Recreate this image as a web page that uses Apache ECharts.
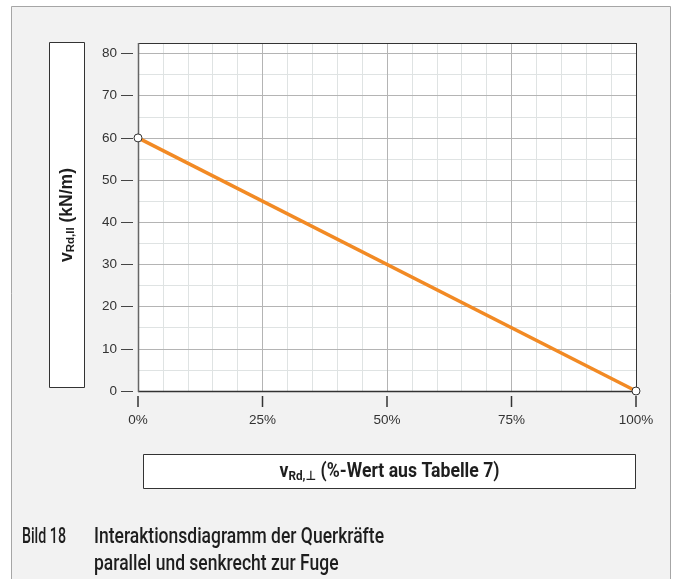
<!DOCTYPE html>
<html><head><meta charset="utf-8">
<script src="https://cdn.jsdelivr.net/npm/echarts@6/dist/echarts.min.js"></script>
<style>html,body{margin:0;padding:0;background:#fff}#c{width:676px;height:579px}</style>
</head><body><div id="c"></div>
<script>
// ---- data ----
const xTicks = [0, 25, 50, 75, 100];
const xTickLabels = ['0%', '25%', '50%', '75%', '100%'];
const yTicks = [0, 10, 20, 30, 40, 50, 60, 70, 80];
const yMax = 82.5;
const lineX = [0, 100];
const lineY = [60, 0];
const xTitleParts = ['v', 'Rd,\u22A5', ' (%-Wert aus Tabelle 7)'];
const yTitleParts = ['v', 'Rd,II', ' (kN/m)'];
const captionNo = 'Bild 18';
const captionLines = ['Interaktionsdiagramm der Querkr\u00e4fte', 'parallel und senkrecht zur Fuge'];

// ---- layout ----
const G = { left: 138, top: 43, width: 498, height: 348 };
const mctx = document.createElement('canvas').getContext('2d');
function tw(t, font) { mctx.font = font; return mctx.measureText(t).width; }
const CAP_FONT = '500 22px Roboto';
const capScale = 290 / tw(captionLines[0], CAP_FONT);
const noScale = 44 / tw(captionNo, CAP_FONT);
const XT_FAM = 'Roboto, "DejaVu Sans", sans-serif';
const xtW = tw(xTitleParts[0], 'bold 19.5px ' + XT_FAM) + tw(xTitleParts[1], 'bold 13px ' + XT_FAM) + tw(xTitleParts[2], 'bold 19.5px ' + XT_FAM);
const xtScale = 220 / xtW;

const chart = echarts.init(document.getElementById('c'), null, { renderer: 'canvas' });
const hidden = { axisLine: { show: false }, axisTick: { show: false }, axisLabel: { show: false } };
const minorC = '#dfe3e3', majorC = '#b4b4b4';
const LBL_FAM = '"Liberation Sans", Arial, sans-serif';
const labelFont = { color: '#333', fontSize: 13.5, fontFamily: LBL_FAM };

function T(x, y, style, extra) {
  return Object.assign({ type: 'text', x: x, y: y, z: 5, style: style }, extra || {});
}

chart.setOption({
  animation: false,
  backgroundColor: '#fff',
  grid: Object.assign({ show: true, backgroundColor: '#fff', borderWidth: 0, outerBoundsMode: 'none', containLabel: false }, G),
  xAxis: [
    Object.assign({ type: 'value', min: 0, max: 100, interval: 5, position: 'bottom', z: 0,
      splitLine: { show: true, lineStyle: { color: minorC, width: 1 } } }, hidden),
    Object.assign({ type: 'value', min: 0, max: 100, interval: 25, position: 'bottom', z: 1,
      splitLine: { show: true, lineStyle: { color: majorC, width: 1 } } }, hidden),
    { type: 'value', min: 0, max: 100, interval: 25, position: 'bottom', offset: 5, z: 6,
      axisLine: { show: false },
      axisTick: { show: false },
      axisLabel: { show: true, margin: 0, verticalAlign: 'top', customValues: xTicks,
        formatter: v => '{t|}\n{l|' + (xTickLabels[xTicks.indexOf(v)] || '') + '}',
        rich: {
          t: { width: 1.5, height: 11, lineHeight: 11, backgroundColor: '#333' },
          l: { color: '#333', fontSize: 13.5, fontFamily: LBL_FAM, lineHeight: 26 }
        } },
      splitLine: { show: false } }
  ],
  yAxis: [
    Object.assign({ type: 'value', min: 0, max: yMax, interval: 5, position: 'left', z: 0,
      splitLine: { show: true, lineStyle: { color: minorC, width: 1 } } }, hidden),
    Object.assign({ type: 'value', min: 0, max: yMax, interval: 10, position: 'left', z: 1,
      splitLine: { show: true, lineStyle: { color: majorC, width: 1 } } }, hidden),
    { type: 'value', min: 0, max: yMax, interval: 10, position: 'left', offset: 5,
      axisLine: { show: true, onZero: false, lineStyle: { color: '#444', opacity: 0 } },
      axisTick: { show: true, inside: false, length: 12, customValues: yTicks, lineStyle: { color: '#444', width: 1, opacity: 1 } },
      axisLabel: Object.assign({ show: true, margin: 16, customValues: yTicks,
        formatter: v => (yTicks.indexOf(v) >= 0 ? String(v) : '') }, labelFont),
      splitLine: { show: false } }
  ],
  series: [{
    type: 'line', xAxisIndex: 0, yAxisIndex: 0, z: 3, clip: false,
    data: lineX.map((x, i) => [x, lineY[i]]),
    lineStyle: { color: '#f28a24', width: 3.5 },
    symbol: 'circle', symbolSize: 8, showAllSymbol: true,
    itemStyle: { color: '#fff', borderColor: '#333', borderWidth: 1 }
  }],
  graphic: { elements: [
    { type: 'rect', z: -5, shape: { x: 11.5, y: 6.5, width: 659, height: 620 },
      style: { fill: '#f2f2f2', stroke: '#a6a6a6', lineWidth: 1 } },
    // plot frame
    { type: 'line', z: 1.5, shape: { x1: G.left, y1: G.top + 0.5, x2: G.left + G.width + 0.5, y2: G.top + 0.5 }, style: { stroke: '#333', lineWidth: 1 } },
    { type: 'line', z: 1.5, shape: { x1: G.left + G.width + 0.5, y1: G.top, x2: G.left + G.width + 0.5, y2: G.top + G.height + 1 }, style: { stroke: '#333', lineWidth: 1 } },
    { type: 'line', z: 1.5, shape: { x1: G.left, y1: G.top + G.height + 0.5, x2: G.left + G.width + 1, y2: G.top + G.height + 0.5 }, style: { stroke: '#333', lineWidth: 1.5 } },
    { type: 'line', z: 1.5, shape: { x1: G.left + 0.5, y1: G.top, x2: G.left + 0.5, y2: G.top + G.height + 1 }, style: { stroke: '#666', lineWidth: 1.5 } },
    // title boxes
    { type: 'rect', z: 1, shape: { x: 49.5, y: 42.5, width: 35, height: 345 }, style: { fill: '#fff', stroke: '#333', lineWidth: 1 } },
    { type: 'rect', z: 1, shape: { x: 143.5, y: 454.5, width: 492, height: 34 }, style: { fill: '#fff', stroke: '#333', lineWidth: 1 } },
    // y title (rotated)
    T(67, 215, {
      text: '{v|' + yTitleParts[0] + '}{s|' + yTitleParts[1] + '}{v|' + yTitleParts[2] + '}',
      align: 'center', verticalAlign: 'middle', textAlign: 'center', textVerticalAlign: 'middle',
      rich: {
        v: { fontSize: 17.5, fontWeight: 'bold', fontFamily: LBL_FAM, fill: '#1e1e1e', color: '#1e1e1e', lineHeight: 20 },
        s: { fontSize: 11.5, fontWeight: 'bold', fontFamily: LBL_FAM, fill: '#1e1e1e', color: '#1e1e1e', lineHeight: 12, verticalAlign: 'bottom' }
      }
    }, { rotation: Math.PI / 2 }),
    // x title
    T(389.5, 472, {
      text: '{v|' + xTitleParts[0] + '}{s|' + xTitleParts[1] + '}{v|' + xTitleParts[2] + '}',
      align: 'center', verticalAlign: 'middle', textAlign: 'center', textVerticalAlign: 'middle',
      rich: {
        v: { fontSize: 19.5, fontWeight: 'bold', fontFamily: XT_FAM, fill: '#1e1e1e', color: '#1e1e1e', lineHeight: 22 },
        s: { fontSize: 13, fontWeight: 'bold', fontFamily: XT_FAM, fill: '#1e1e1e', color: '#1e1e1e', lineHeight: 14, verticalAlign: 'bottom' }
      }
    }, { scaleX: xtScale }),
    // caption
    T(22, 537, { text: captionNo, font: CAP_FONT, fill: '#1e1e1e', align: 'left', verticalAlign: 'middle', textAlign: 'left', textVerticalAlign: 'middle' }, { scaleX: noScale }),
    T(94, 537, { text: captionLines[0], font: CAP_FONT, fill: '#1e1e1e', align: 'left', verticalAlign: 'middle', textAlign: 'left', textVerticalAlign: 'middle' }, { scaleX: capScale }),
    T(94, 564.5, { text: captionLines[1], font: CAP_FONT, fill: '#1e1e1e', align: 'left', verticalAlign: 'middle', textAlign: 'left', textVerticalAlign: 'middle' }, { scaleX: capScale })
  ] }
});
</script>
</body></html>
